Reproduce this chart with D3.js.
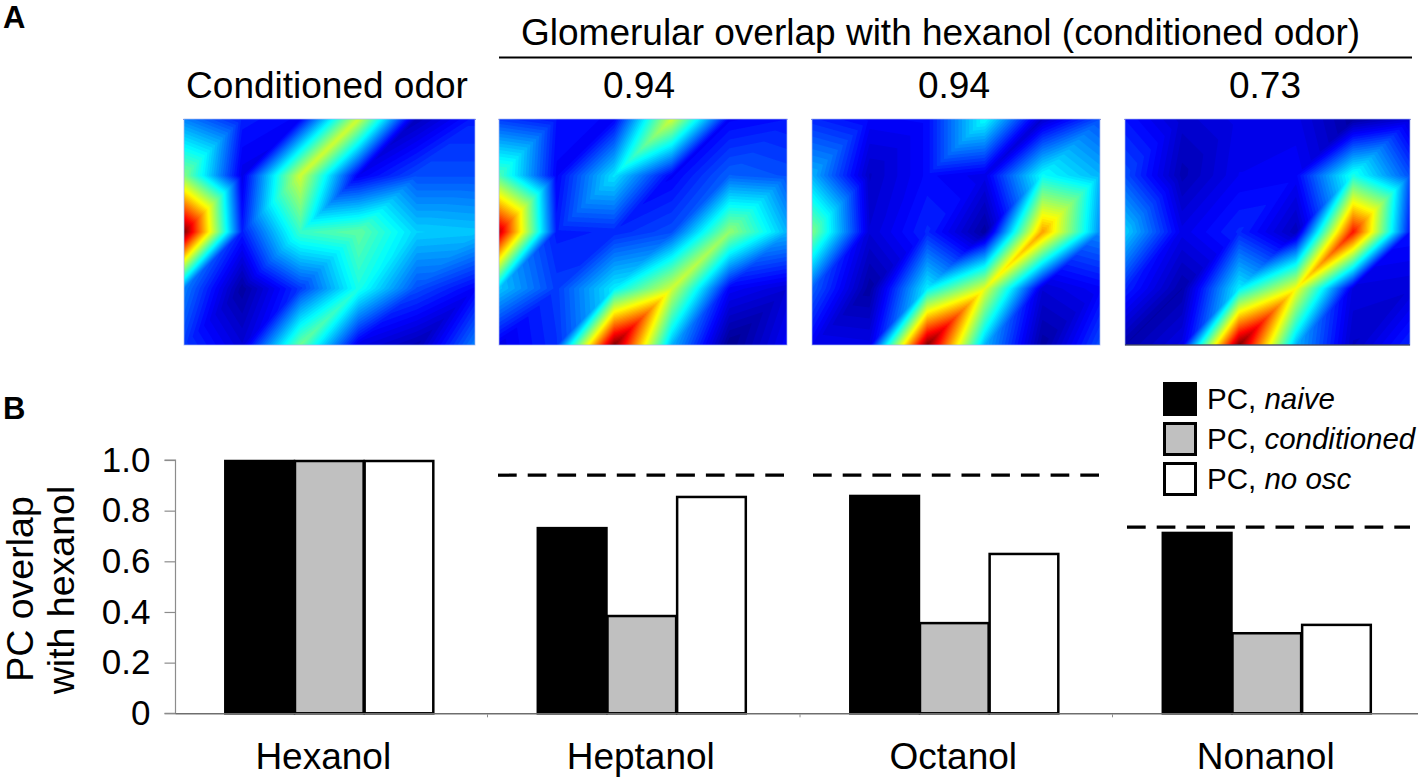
<!DOCTYPE html>
<html>
<head>
<meta charset="utf-8">
<script src="https://cdn.jsdelivr.net/npm/d3@7"></script>
<style>
  html, body { margin: 0; padding: 0; background: #fff; }
  svg { display: block; }
  text { font-family: "Liberation Sans", Arial, sans-serif; fill: #000; }
</style>
</head>
<body>
<div id="chart"></div>
<script>
// heat map vertex values (5 rows by 6 columns, jet scale 0..1)
var mapConditioned = [
  [0.25, 0.15, 0.12, 0.58, 0.05, 0.15],
  [0.50, 0.10, 0.58, 0.11, 0.20, 0.20],
  [1.00, 0.15, 0.43, 0.47, 0.33, 0.32],
  [0.25, 0.02, 0.18, 0.40, 0.20, 0.12],
  [0.18, 0.08, 0.48, 0.10, 0.04, 0.25]
];
var mapHeptanol = [
  [0.18, 0.14, 0.12, 0.58, 0.12, 0.14],
  [0.45, 0.12, 0.35, 0.12, 0.22, 0.20],
  [0.93, 0.15, 0.16, 0.20, 0.52, 0.30],
  [0.32, 0.18, 0.36, 0.58, 0.12, 0.08],
  [0.10, 0.17, 1.00, 0.30, 0.00, 0.12]
];
var mapOctanol = [
  [0.16, 0.12, 0.13, 0.38, 0.07, 0.20],
  [0.30, 0.06, 0.13, 0.10, 0.38, 0.30],
  [0.50, 0.08, 0.16, 0.02, 0.72, 0.26],
  [0.22, 0.02, 0.36, 0.60, 0.08, 0.12],
  [0.11, 0.10, 1.00, 0.30, 0.02, 0.20]
];
var mapNonanol = [
  [0.14, 0.07, 0.10, 0.10, 0.02, 0.08],
  [0.20, 0.04, 0.11, 0.12, 0.40, 0.20],
  [0.33, 0.10, 0.16, 0.05, 0.86, 0.14],
  [0.16, 0.03, 0.36, 0.62, 0.09, 0.08],
  [0.03, 0.10, 1.00, 0.30, 0.06, 0.16]
];
var mapLabels = ['Conditioned odor', '0.94', '0.94', '0.73'];

// bar chart
var odors = ['Hexanol', 'Heptanol', 'Octanol', 'Nonanol'];
var seriesNames = ['naive', 'conditioned', 'no osc'];
var pcNaive = [1, 0.735, 0.862, 0.716];
var pcConditioned = [1, 0.388, 0.36, 0.32];
var pcNoOsc = [1, 0.858, 0.633, 0.353];
var glomerularOverlap = [0.94, 0.94, 0.735];
var yTicks = [0, 0.2, 0.4, 0.6, 0.8, 1];

var width = 1418, height = 777;
var svg = d3.select('#chart').append('svg').attr('width', width).attr('height', height);

// jet colormap, MATLAB style with 64 steps
var jet = d3.scaleLinear()
  .domain([0, 0.125, 0.375, 0.625, 0.875, 1])
  .range(['#00008f', '#0000ff', '#00ffff', '#ffff00', '#ff0000', '#800000'])
  .clamp(true);
var levels = d3.range(64).map(function(i) { return i / 64; });

// value inside the vertex grid, each quad split in two along the "/" diagonal
function sampleGrid(grid, gx, gy) {
  var i = Math.min(Math.floor(gx), 4), j = Math.min(Math.floor(gy), 3);
  var u = gx - i, v = gy - j;
  var f00 = grid[j][i], f10 = grid[j][i + 1], f01 = grid[j + 1][i], f11 = grid[j + 1][i + 1];
  if (u + v <= 1) return f00 + u * (f10 - f00) + v * (f01 - f00);
  return f11 + (1 - u) * (f01 - f11) + (1 - v) * (f10 - f11);
}

function drawMap(grid, box, idx) {
  var res = 2;
  var w = Math.round((box[1] - box[0]) * res), h = Math.round((box[3] - box[2]) * res);
  var gx = d3.scaleLinear().domain([0, w]).range([0, 5]);
  var gy = d3.scaleLinear().domain([0, h]).range([0, 4]);
  var values = new Array(w * h);
  for (var y = 0; y < h; y++) {
    for (var x = 0; x < w; x++) {
      values[y * w + x] = sampleGrid(grid, gx(x + 0.5), gy(y + 0.5));
    }
  }
  var contours = d3.contours().size([w, h]).thresholds(levels)(values);
  var g = svg.append('g')
    .attr('class', 'map map-' + idx)
    .attr('transform', 'translate(' + box[0] + ',' + box[2] + ') scale(' + (1 / res) + ')');
  g.selectAll('path')
    .data(contours)
    .enter().append('path')
      .attr('d', d3.geoPath())
      .attr('fill', function(d) { return jet(d.value + 0.5 / 64); });
  // soft pale edge of the pasted image
  svg.append('rect')
    .attr('x', box[0]).attr('y', box[2])
    .attr('width', box[1] - box[0]).attr('height', box[3] - box[2])
    .attr('fill', 'none').attr('stroke', '#a9b8ee').attr('stroke-width', 1).attr('opacity', 0.7);
}

var mapBoxes = [[184, 475, 119, 345], [499, 787, 119, 345], [812, 1100, 119, 345], [1125, 1410, 119, 345]];
[mapConditioned, mapHeptanol, mapOctanol, mapNonanol].forEach(function(grid, i) {
  drawMap(grid, mapBoxes[i], i);
});
// the last map has a thin dark edge along the bottom
svg.append('line').attr('x1', 1125).attr('x2', 1410).attr('y1', 345).attr('y2', 345)
  .attr('stroke', '#223').attr('stroke-width', 1);

// panel letters and headers
svg.append('text').attr('x', 3).attr('y', 28).attr('font-size', 31).attr('font-weight', 'bold').text('A');
svg.append('text').attr('x', 3).attr('y', 419).attr('font-size', 31).attr('font-weight', 'bold').text('B');

svg.append('text').attr('x', 521).attr('y', 45).attr('font-size', 37)
  .text('Glomerular overlap with hexanol (conditioned odor)');
svg.append('line').attr('x1', 499).attr('x2', 1412).attr('y1', 57.5).attr('y2', 57.5)
  .attr('stroke', '#000').attr('stroke-width', 2);

var labelX = [327, 639, 954, 1265];
svg.selectAll('.map-label')
  .data(mapLabels)
  .enter().append('text')
    .attr('class', 'map-label')
    .attr('x', function(d, i) { return labelX[i]; })
    .attr('y', 98)
    .attr('text-anchor', 'middle')
    .attr('font-size', 37)
    .text(function(d) { return d; });

// bars
var x0 = d3.scaleBand().domain(odors).range([175, 1425]);
var xSub = d3.scaleBand().domain(seriesNames).range([49.3, 258.3]);
var y = d3.scaleLinear().domain([0, 1]).range([713.3, 460]);

var seriesValues = [pcNaive, pcConditioned, pcNoOsc];
var seriesFill = ['#000000', '#c0c0c0', '#ffffff'];

seriesNames.forEach(function(name, s) {
  svg.append('g').attr('class', 'bars')
    .selectAll('rect')
    .data(seriesValues[s])
    .enter().append('rect')
      .attr('x', function(d, i) { return x0(odors[i]) + xSub(name) + 1; })
      .attr('y', function(d) { return y(d) + 1; })
      .attr('width', xSub.bandwidth() - 1)
      .attr('height', function(d) { return y(0) - y(d) - 1; })
      .attr('fill', seriesFill[s])
      .attr('stroke', '#000')
      .attr('stroke-width', 2.5);
});

// y axis
var yAxis = d3.axisLeft(y).tickValues(yTicks).tickSize(11).tickPadding(14)
  .tickFormat(function(d) { return d === 0 ? '0' : d3.format('.1f')(d); });
var yg = svg.append('g').attr('transform', 'translate(175.5,0)').call(yAxis);
yg.selectAll('path, line').attr('stroke', '#8c8c8c').attr('stroke-width', 1.2);
yg.select('.domain').attr('d', 'M-11,' + y(1) + 'H0V' + y(0) + 'H-11');
yg.selectAll('text').attr('font-size', 35).attr('font-family', '"Liberation Sans", Arial, sans-serif');

// baseline with ticks between the categories
svg.append('line').attr('x1', 175.5).attr('x2', 1418).attr('y1', y(0) + 0.5).attr('y2', y(0) + 0.5)
  .attr('stroke', '#6e6e6e').attr('stroke-width', 1.6);
svg.append('g').selectAll('line')
  .data(odors.slice(1))
  .enter().append('line')
    .attr('x1', function(d) { return x0(d); })
    .attr('x2', function(d) { return x0(d); })
    .attr('y1', y(0) + 1)
    .attr('y2', y(0) + 4)
    .attr('stroke', '#8c8c8c');

// category labels, the first one sits a little left of its band in the original
var xAxis = d3.axisBottom(x0).tickSize(0).tickPadding(0);
var xg = svg.append('g').attr('transform', 'translate(-3,' + y(0) + ')').call(xAxis);
xg.select('.domain').remove();
xg.selectAll('text')
  .attr('font-size', 37)
  .attr('font-family', '"Liberation Sans", Arial, sans-serif')
  .attr('dy', null)
  .attr('x', function(d) { return d === 'Hexanol' ? -5 : 0; })
  .attr('y', 769 - y(0));

// y title
svg.append('text').attr('text-anchor', 'middle').attr('font-size', 37.5)
  .attr('transform', 'translate(33,589) rotate(-90)').text('PC overlap');
svg.append('text').attr('text-anchor', 'middle').attr('font-size', 37.5)
  .attr('transform', 'translate(74,590) rotate(-90)').text('with hexanol');

// dashed lines, glomerular overlap of each odor
var dashBoxes = [[498, 785], [813, 1100], [1127, 1410]];
svg.append('g').selectAll('line')
  .data(glomerularOverlap)
  .enter().append('line')
    .attr('x1', function(d, i) { return dashBoxes[i][0]; })
    .attr('x2', function(d, i) { return dashBoxes[i][1]; })
    .attr('y1', function(d) { return y(d); })
    .attr('y2', function(d) { return y(d); })
    .attr('stroke', '#000')
    .attr('stroke-width', 3.2)
    .attr('stroke-dasharray', '18.7 11');

// legend
var legendY = d3.scalePoint().domain(seriesNames).range([399, 479]);
var legend = svg.append('g').selectAll('g')
  .data(seriesNames)
  .enter().append('g')
    .attr('transform', function(d) { return 'translate(1163,' + legendY(d) + ')'; });
legend.append('rect')
  .attr('x', 1.5).attr('y', -15.5).attr('width', 31).attr('height', 31)
  .attr('fill', function(d, i) { return seriesFill[i]; })
  .attr('stroke', '#000').attr('stroke-width', 3);
var legendText = legend.append('text').attr('x', 44).attr('y', 10).attr('font-size', 29.5);
legendText.append('tspan').text('PC, ');
legendText.append('tspan').attr('font-style', 'italic').text(function(d) { return d; });
</script>
</body>
</html>
